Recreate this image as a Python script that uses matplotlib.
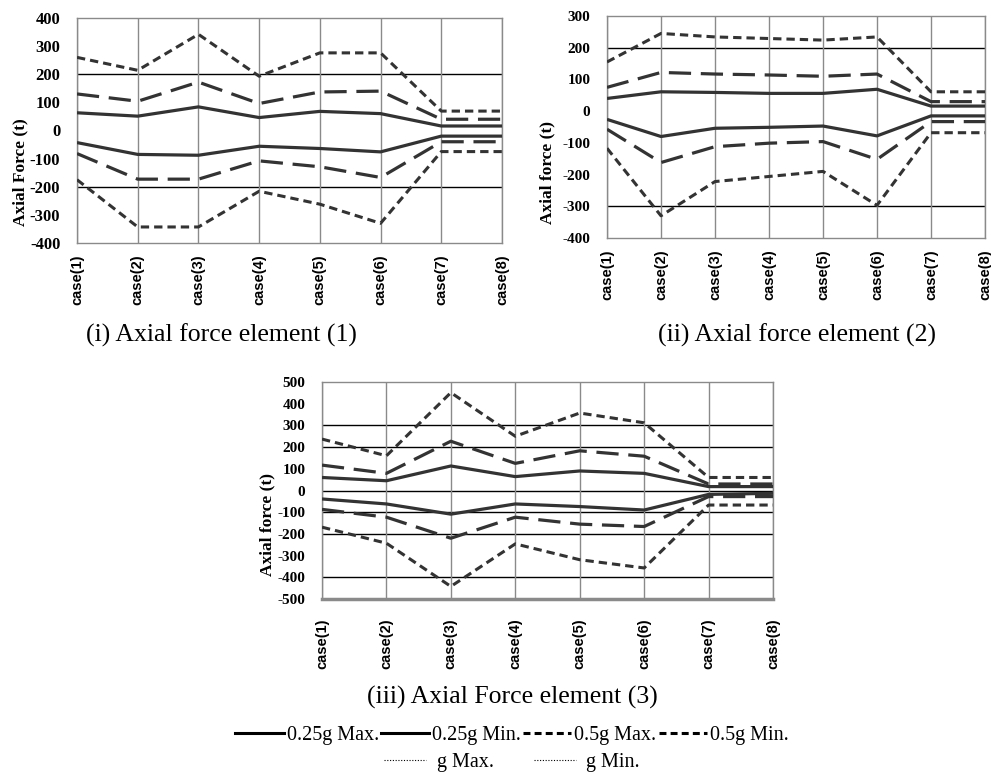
import matplotlib
matplotlib.use('Agg')
import matplotlib.pyplot as plt
from matplotlib.lines import Line2D

plt.rcParams['lines.scale_dashes'] = False

cases = ['case(1)', 'case(2)', 'case(3)', 'case(4)', 'case(5)', 'case(6)', 'case(7)', 'case(8)']
series_names = ['0.25g Max.', '0.25g Min.', '0.5g Max.', '0.5g Min.', 'g Max.', 'g Min.']

# element (1)
e1_025_max = [63, 51, 84, 46, 68, 60, 16, 16]
e1_025_min = [-43, -85, -88, -56, -64, -76, -20, -20]
e1_05_max = [130, 104, 172, 96, 137, 140, 40, 40]
e1_05_min = [-82, -173, -173, -108, -129, -167, -40, -40]
e1_g_max = [260, 214, 342, 193, 276, 276, 69, 69]
e1_g_min = [-175, -343, -343, -216, -262, -330, -75, -75]

# element (2)
e2_025_max = [40, 61, 59, 56, 56, 69, 16, 16]
e2_025_min = [-26, -80, -54, -51, -47, -78, -15, -15]
e2_05_max = [75, 122, 117, 114, 110, 117, 30, 30]
e2_05_min = [-57, -162, -112, -101, -96, -152, -33, -33]
e2_g_max = [155, 245, 234, 229, 224, 234, 61, 61]
e2_g_min = [-117, -330, -222, -206, -190, -297, -68, -68]

# element (3)
e3_025_max = [60, 45, 113, 64, 90, 79, 18, 18]
e3_025_min = [-39, -62, -109, -62, -74, -90, -18, -13]
e3_05_max = [117, 79, 227, 125, 183, 158, 30, 30]
e3_05_min = [-87, -123, -220, -123, -155, -166, -28, -28]
e3_g_max = [237, 160, 451, 250, 357, 312, 60, 60]
e3_g_min = [-169, -243, -442, -246, -319, -357, -67, -67]

W, H = 991, 773
fig = plt.figure(figsize=(W / 100, H / 100), dpi=100)

serif = 'Liberation Serif'
sans = 'Liberation Sans'
lc = '#333333'
styles = [(None, 2.3), (None, 2.3), ((16, 7), 2.3), ((16, 7), 2.3), ((6, 3.6), 2.2), ((6, 3.6), 2.2)]


def px_rect(x0, y0, x1, y1):
    return [x0 / W, 1 - y1 / H, (x1 - x0) / W, (y1 - y0) / H]


def draw(rect, data, ylim, step, hgrid, ylabel, ylab_xy, yfs, label_pad, bottom_thick=False):
    ax = fig.add_axes(rect)
    x = list(range(len(cases)))
    for vals, (dash, lw) in zip(data, styles):
        ln, = ax.plot(x, vals, color=lc, lw=lw, zorder=3, solid_capstyle='butt')
        if dash:
            ln.set_dashes(dash)
    ax.set_xlim(0, 7)
    ax.set_ylim(*ylim)
    for h in hgrid:
        ax.axhline(h, color='black', lw=1, zorder=1)
    ax.set_xticks(x)
    ax.set_xticklabels(cases, rotation=90, fontfamily=sans, fontweight='bold', fontsize=10.5)
    ax.tick_params(axis='x', length=0, pad=label_pad)
    ax.grid(axis='x', color='#8a8a8a', lw=1, zorder=0)
    ax.set_yticks(range(ylim[0], ylim[1] + 1, step))
    ax.set_yticklabels([str(v) for v in range(ylim[0], ylim[1] + 1, step)],
                       fontfamily=serif, fontweight='bold', fontsize=yfs)
    ax.tick_params(axis='y', length=0, pad=12)
    ax.set_yticks(list(ylim), minor=True)
    ax.tick_params(axis='y', which='minor', length=5, width=1.8, color='black')
    for s in ax.spines.values():
        s.set_color('#8a8a8a')
        s.set_linewidth(1)
    if bottom_thick:
        ax.spines['bottom'].set_linewidth(2.5)
    fig.text(ylab_xy[0] / W, 1 - ylab_xy[1] / H, ylabel, rotation=90, ha='center', va='center',
             fontfamily=serif, fontweight='bold', fontsize=12.5)
    return ax


draw(px_rect(77, 18, 502, 243),
     [e1_025_max, e1_025_min, e1_05_max, e1_05_min, e1_g_max, e1_g_min],
     (-400, 400), 100, [200, -200], 'Axial Force (t)', (20, 172), 12, 8)
draw(px_rect(607, 16, 985, 238),
     [e2_025_max, e2_025_min, e2_05_max, e2_05_min, e2_g_max, e2_g_min],
     (-400, 300), 100, [200, -300], 'Axial force (t)', (547, 172), 11, 8)
draw(px_rect(322, 382, 773, 599),
     [e3_025_max, e3_025_min, e3_05_max, e3_05_min, e3_g_max, e3_g_min],
     (-500, 500), 100, [300, 200, 0, -100, -200, -400], 'Axial force (t)', (267, 525), 11, 14,
     bottom_thick=True)

fig.text(221 / W, 1 - 335 / H, '(i) Axial force element (1)', ha='center', va='center',
         fontfamily=serif, fontsize=18.5)
fig.text(797 / W, 1 - 335 / H, '(ii) Axial force element (2)', ha='center', va='center',
         fontfamily=serif, fontsize=18.5)
fig.text(512 / W, 1 - 697 / H, '(iii) Axial Force element (3)', ha='center', va='center',
         fontfamily=serif, fontsize=18.5)

# legend
h1 = [Line2D([], [], color='black', lw=2.2),
      Line2D([], [], color='black', lw=2.2),
      Line2D([], [], color='black', lw=2.2, dashes=(5, 3)),
      Line2D([], [], color='black', lw=2.2, dashes=(5, 3))]
h2 = [Line2D([], [], color='black', lw=0.8, dashes=(0.8, 1.2)),
      Line2D([], [], color='black', lw=0.8, dashes=(0.8, 1.2))]
leg_kw = dict(frameon=False, handlelength=2.4, handletextpad=0.15, columnspacing=0.1,
              prop={'family': serif, 'size': 14.5}, borderaxespad=0, borderpad=0)
fig.legend(h1, series_names[:4], loc='center', bbox_to_anchor=(512 / W, 1 - 735 / H), ncol=4, **leg_kw)
leg_kw.update(columnspacing=2.0, handlelength=2.1, handletextpad=0.5)
fig.legend(h2, series_names[4:], loc='center', bbox_to_anchor=(512 / W, 1 - 762 / H), ncol=2, **leg_kw)

fig.savefig('out.png', dpi=100)
